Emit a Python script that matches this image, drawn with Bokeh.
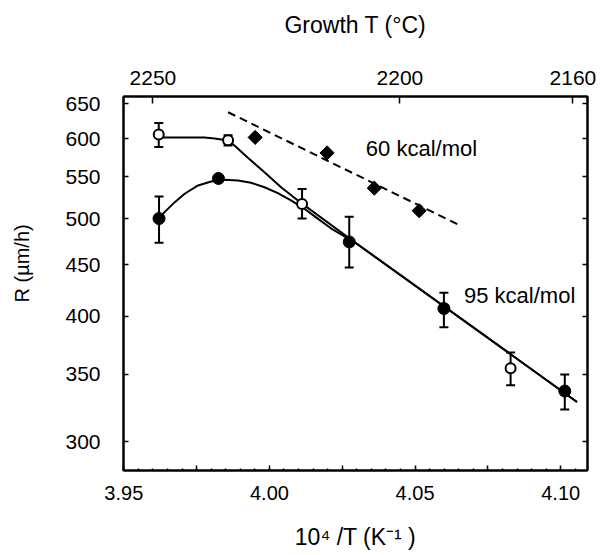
from bokeh.plotting import figure
from bokeh.models import (Range1d, FixedTicker, LinearAxis, LogAxis,
                          CustomJSTickFormatter, Label, Title)
from bokeh.embed import file_html
from bokeh.resources import INLINE

# ---------------- data ----------------
# filled circles
filled_x = [3.9621, 3.9825, 4.0274, 4.0599, 4.1014]
filled_y = [500, 548, 474, 407, 337]
filled_err_x = [3.9621, 4.0274, 4.0599, 4.1014]
filled_err_upper = [526, 502, 422, 350]
filled_err_lower = [473, 447, 390, 323]

# open circles
open_x = [3.9620, 3.9858, 4.0112, 4.0828]
open_y = [606, 598, 517, 355]
open_err_upper = [622, 605, 535, 368]
open_err_lower = [589, 591, 500, 341.5]

# diamonds
diamond_x = [3.9951, 4.0198, 4.0360, 4.0514]
diamond_y = [602, 581, 536, 509]

# 60 kcal/mol dashed fit
fit60_x = [3.9858, 4.0654]
fit60_y = [637.6, 492.3]

# smooth curves
curve_open_x = [3.9620, 3.9635, 3.9709, 3.9777, 3.9812, 3.9858, 3.9880, 3.9926,
                3.9983, 4.0040, 4.0112, 4.0300, 4.1056]
curve_open_y = [606, 602, 602, 601.8, 600.4, 597.8, 590.9, 574.5,
                555.9, 537.1, 517.3, 472, 328.7]
curve_filled_x = [3.9621, 3.9640, 3.9675, 3.9709, 3.9755, 3.9800, 3.9846, 3.9892,
                  3.9937, 3.9983, 4.0029, 4.0074, 4.0120, 4.0166, 4.0211, 4.0300, 4.1056]
curve_filled_y = [500.4, 507.4, 519.1, 529.2, 539.3, 544.3, 546.4, 545.5,
                  542.6, 537.1, 529.9, 521.2, 511.4, 499.9, 489.0, 472.0, 328.7]

# axis ticks
y_ticks = [300, 350, 400, 450, 500, 550, 600, 650]
x_major_ticks = [3.95, 3.975, 4.00, 4.025, 4.05, 4.075, 4.10]
x_minor_ticks = [round(3.95 + 0.005 * i, 3) for i in range(32)]
top_tick_x = [3.960, 4.0448, 4.1042]
top_tick_labels = ["2250", "2200", "2160"]

label60 = (4.0331, 586.9, "60 kcal/mol")
label95 = (4.0668, 419.5, "95 kcal/mol")

FONT = "Liberation Sans"

# ---------------- figure ----------------
p = figure(width=605, height=555,
           x_range=Range1d(3.9499, 4.1092), y_range=Range1d(281, 661),
           y_axis_type="log", output_backend="svg", toolbar_location=None,
           min_border_left=123, min_border_right=18,
           min_border_top=96, min_border_bottom=85)
p.grid.visible = False
p.outline_line_color = "black"
p.outline_line_width = 2
p.background_fill_color = "white"
p.border_fill_color = "white"


def style_axis(ax, tick_in=5, minor_in=0):
    ax.axis_line_color = "black"
    ax.axis_line_width = 2
    ax.major_tick_in = tick_in
    ax.major_tick_out = 0
    ax.major_tick_line_width = 1.5
    ax.minor_tick_in = minor_in
    ax.minor_tick_out = 0
    ax.minor_tick_line_width = 1.5
    ax.major_label_text_font = FONT
    ax.major_label_text_font_size = "21px"
    ax.major_label_text_color = "black"
    ax.axis_label_text_font = FONT
    ax.axis_label_text_font_style = "normal"
    ax.axis_label_text_color = "black"


# bottom axis
xa = p.xaxis[0]
xa.ticker = FixedTicker(ticks=x_major_ticks, minor_ticks=x_minor_ticks)
xa.formatter = CustomJSTickFormatter(code="""
const k = Math.round(tick*1000);
return (k % 50 === 0) ? tick.toFixed(2) : "";
""")
style_axis(xa, tick_in=5, minor_in=2)
xa.major_label_text_font_size = "20px"
xa.axis_label = "10\u2074 /T (K\u207b\u00b9 )"
xa.axis_label_text_font_size = "23px"
xa.major_label_standoff = 15
xa.axis_label_standoff = 21

# left axis (a blank axis label only reserves room, pushing the side title outward)
ya = p.yaxis[0]
ya.ticker = FixedTicker(ticks=y_ticks, minor_ticks=[])
ya.formatter = CustomJSTickFormatter(code="return tick.toFixed(0);")
style_axis(ya, tick_in=5)
ya.major_label_standoff = 23
ya.axis_label = "\u00a0"
ya.axis_label_text_font_size = "20px"
ya.axis_label_standoff = 0

# y-axis title as a side title (sits above the frame centre in the reference)
ytitle = Title(text="R (\u00b5m/h)", align="left", offset=168,
               vertical_align="bottom", standoff=10,
               text_font=FONT, text_font_size="20px",
               text_font_style="normal", text_color="black")
p.add_layout(ytitle, "left")

# right axis (ticks only)
ra = LogAxis(ticker=FixedTicker(ticks=y_ticks, minor_ticks=[]),
             formatter=CustomJSTickFormatter(code="return '';"))
style_axis(ra, tick_in=5)
ra.major_label_standoff = 0
p.add_layout(ra, "right")

# top axis (growth temperature)
ta = LinearAxis(ticker=FixedTicker(ticks=top_tick_x, minor_ticks=[]),
                formatter=CustomJSTickFormatter(args=dict(t=top_tick_x, lab=top_tick_labels), code="""
let best = 0, d = 1e9;
for (let i = 0; i < t.length; i++) { const dd = Math.abs(t[i] - tick); if (dd < d) { d = dd; best = i; } }
return lab[best];
"""))
style_axis(ta, tick_in=7)
ta.axis_label = "Growth T (\u00b0C)"
ta.axis_label_text_font_size = "23px"
ta.major_label_standoff = 12
ta.axis_label_standoff = 30
p.add_layout(ta, "above")

# ---------------- glyphs ----------------
p.line(fit60_x, fit60_y, line_color="black", line_width=2, line_dash="8 5")
p.line(curve_filled_x, curve_filled_y, line_color="black", line_width=2)
p.line(curve_open_x, curve_open_y, line_color="black", line_width=2)

# error bars
p.segment(x0=filled_err_x, y0=filled_err_lower, x1=filled_err_x, y1=filled_err_upper,
          line_color="black", line_width=2)
p.scatter(filled_err_x + filled_err_x, filled_err_upper + filled_err_lower,
          marker="dash", size=9, line_color="black", line_width=2)
p.segment(x0=open_x, y0=open_err_lower, x1=open_x, y1=open_err_upper,
          line_color="black", line_width=2)
p.scatter(open_x + open_x, open_err_upper + open_err_lower,
          marker="dash", size=9, line_color="black", line_width=2)

# markers
p.scatter(filled_x, filled_y, marker="circle", size=12,
          fill_color="black", line_color="black")
p.scatter(open_x, open_y, marker="circle", size=10,
          fill_color="white", line_color="black", line_width=2)
p.scatter(diamond_x, diamond_y, marker="square", size=10, angle=0.785398,
          fill_color="black", line_color="black")

for (lx, ly, lt) in (label60, label95):
    p.add_layout(Label(x=lx, y=ly, text=lt, text_baseline="middle", text_align="left",
                       text_font=FONT, text_font_size="22px", text_color="black"))

open("out.html", "w").write(file_html(p, INLINE))
